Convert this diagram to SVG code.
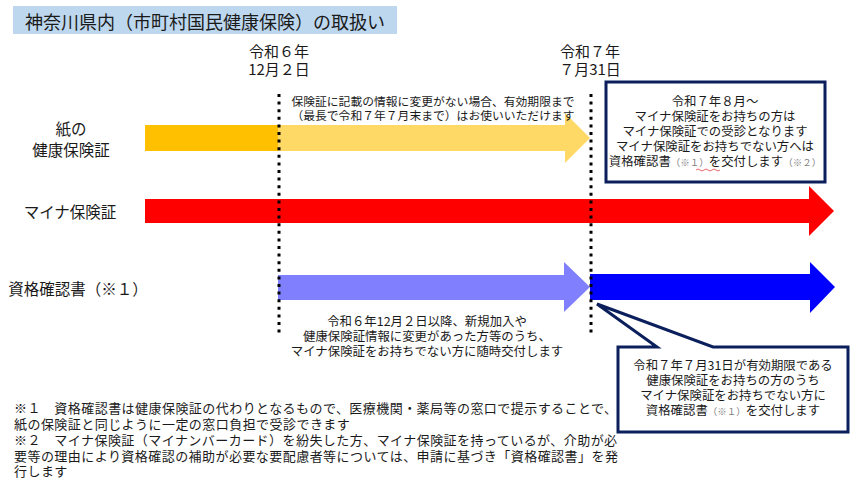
<svg xmlns="http://www.w3.org/2000/svg" width="858" height="480" viewBox="0 0 858 480">
<style>
text{font-family:"Noto Sans CJK JP","Noto Sans",sans-serif;fill:#1a1a1a}
.c{text-anchor:middle}
.lbl{font-size:15.5px}
.date{font-size:15px}
.note{font-size:11.8px}
.body{font-size:12.4px}
.foot{font-size:13px;letter-spacing:0.45px}
.sm{font-size:9.5px;fill:#7f7f7f}
.dot{stroke:#000;stroke-width:3;stroke-dasharray:3 4.6;fill:none}
.box{fill:#fff;stroke:#0b1f5c;stroke-width:3}
</style>
<g id="title">
<rect x="13" y="6" width="384" height="28" fill="#bdd7ee"/>
<text class="c" x="205" y="29" style="font-size:18px">神奈川県内（市町村国民健康保険）の取扱い</text>
</g>
<g id="date1">
<text class="c date" x="279" y="57">令和６年</text>
<text class="c date" x="279" y="75">12月２日</text>
</g>
<g id="date2">
<text class="c date" x="590" y="57">令和７年</text>
<text class="c date" x="590" y="75">７月31日</text>
</g>
<g id="label-paper">
<text class="c lbl" x="71" y="135">紙の</text>
<text class="c lbl" x="71" y="156">健康保険証</text>
</g>
<g id="label-myna">
<text class="c lbl" x="70" y="218">マイナ保険証</text>
</g>
<g id="label-shikaku">
<text class="c lbl" x="78" y="295">資格確認書（※１）</text>
</g>
<g id="connectors">
<rect x="145" y="125" width="134" height="26" fill="#ffc000"/>
<polygon points="278,125 565,125 565,113 590,138 565,163 565,151 278,151" fill="#ffd966"/>
<polygon points="145,199 809,199 809,186 834,211 809,236 809,223 145,223" fill="#ff0000"/>
<polygon points="278,275 564,275 564,262 590,287 564,312 564,300 278,300" fill="#8080ff"/>
<polygon points="590,274 810,274 810,262 835,287 810,313 810,300 590,300" fill="#0000ff"/>
<line class="dot" x1="279" y1="94" x2="279" y2="334"/>
<line class="dot" x1="591" y1="94" x2="591" y2="334"/>
</g>
<g id="note-top">
<text class="c note" x="433" y="106">保険証に記載の情報に変更がない場合、有効期限まで</text>
<text class="c note" x="433" y="120">（最長で令和７年７月末まで）はお使いいただけます</text>
</g>
<g id="note-bottom">
<text class="c body" x="427" y="326">令和６年12月２日以降、新規加入や</text>
<text class="c body" x="427" y="341">健康保険証情報に変更があった方等のうち、</text>
<text class="c body" x="427" y="356">マイナ保険証をお持ちでない方に随時交付します</text>
</g>
<g id="box-aug">
<rect class="box" x="606" y="82" width="219" height="100"/>
<text class="c body" x="715" y="106">令和７年８月～</text>
<text class="c body" x="715" y="121">マイナ保険証をお持ちの方は</text>
<text class="c body" x="715" y="136">マイナ保険証での受診となります</text>
<text class="c body" x="715" y="151">マイナ保険証をお持ちでない方へは</text>
<text class="c body" x="715" y="166">資格確認書<tspan class="sm">（※１）</tspan>を交付します<tspan class="sm">（※２）</tspan></text>
<path d="M696,170 q2,-2 4,0 t4,0 t4,0 t4,0 t4,0 t4,0" fill="none" stroke="#e04040" stroke-width="0.8"/>
</g>
<g id="callout">
<path class="box" d="M618,347 L657,347 L597,304 L713,347 L848,347 L848,432 L618,432 Z"/>
<text class="c body" x="733" y="370">令和７年７月31日が有効期限である</text>
<text class="c body" x="733" y="385">健康保険証をお持ちの方のうち</text>
<text class="c body" x="733" y="400">マイナ保険証をお持ちでない方に</text>
<text class="c body" x="733" y="415">資格確認書<tspan class="sm">（※１）</tspan>を交付します</text>
</g>
<g id="footnotes">
<text class="foot" x="14" y="413">※１　資格確認書は健康保険証の代わりとなるもので、医療機関・薬局等の窓口で提示することで、</text>
<text class="foot" x="14" y="429">紙の保険証と同じように一定の窓口負担で受診できます</text>
<text class="foot" x="14" y="445">※２　マイナ保険証（マイナンバーカード）を紛失した方、マイナ保険証を持っているが、介助が必</text>
<text class="foot" x="14" y="461">要等の理由により資格確認の補助が必要な要配慮者等については、申請に基づき「資格確認書」を発</text>
<text class="foot" x="14" y="476">行します</text>
</g>
</svg>
